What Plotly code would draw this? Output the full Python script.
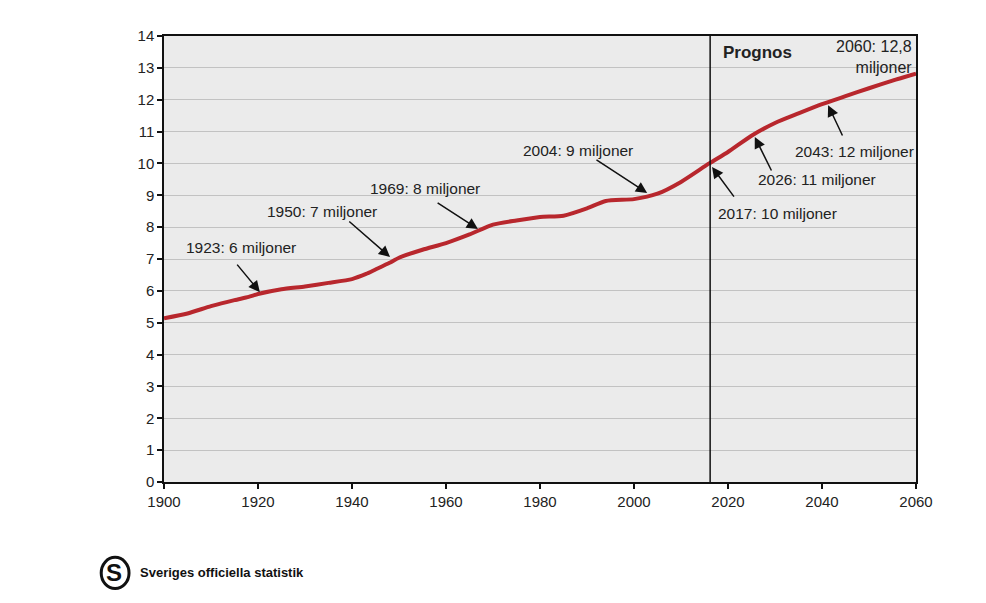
import plotly.graph_objects as go

years = [1900, 1905, 1910, 1915, 1918, 1920, 1925, 1930, 1935, 1940, 1943, 1945, 1948,
         1950, 1955, 1960, 1965, 1970, 1975, 1980, 1985, 1990, 1994, 2000, 2005, 2010,
         2016, 2020, 2025, 2030, 2035, 2040, 2045, 2050, 2055, 2060]
population = [5.14, 5.29, 5.52, 5.71, 5.81, 5.90, 6.05, 6.14, 6.25, 6.37, 6.53, 6.67, 6.88,
              7.04, 7.29, 7.50, 7.77, 8.08, 8.21, 8.32, 8.36, 8.59, 8.82, 8.88, 9.05, 9.42,
              10.00, 10.36, 10.87, 11.27, 11.57, 11.86, 12.11, 12.36, 12.60, 12.82]

prognos_year = 2016.2

x_ticks = [1900, 1920, 1940, 1960, 1980, 2000, 2020, 2040, 2060]
y_ticks = list(range(0, 15))

# milestone labels: text, text position (x, y), arrow tail (x, y), arrow tip (x, y)
labels = ["1923: 6 miljoner", "1950: 7 miljoner", "1969: 8 miljoner", "2004: 9 miljoner",
          "2017: 10 miljoner", "2026: 11 miljoner", "2043: 12 miljoner"]
label_pos = [(1916.4, 7.35), (1933.6, 8.48), (1955.5, 9.20), (1988.1, 10.42),
             (2030.6, 8.44), (2038.9, 9.48), (2047.0, 10.39)]
arrow_tail = [(1915.3, 6.87), (1939.1, 8.22), (1957.9, 8.79), (1991.7, 10.14),
              (2021.5, 8.91), (2029.4, 9.73), (2044.5, 10.83)]
arrow_tip = [(1920.4, 5.96), (1948.1, 7.06), (1966.8, 7.94), (2002.8, 9.07),
             (2016.6, 9.89), (2025.7, 10.83), (2041.3, 11.83)]

FONT = "Liberation Sans, Arial, sans-serif"
TXT = "#222222"

fig = go.Figure()
fig.add_trace(go.Scatter(x=years, y=population, mode="lines",
                         line=dict(color="#b8272d", width=4, shape="spline", smoothing=0.6),
                         hoverinfo="x+y", showlegend=False))

annotations = []
for t, (tx, ty), (ax, ay), (px, py) in zip(labels, label_pos, arrow_tail, arrow_tip):
    annotations.append(dict(x=tx, y=ty, xref="x", yref="y", text=t, showarrow=False,
                            font=dict(family=FONT, size=15.5, color=TXT)))
    annotations.append(dict(x=px, y=py, ax=ax, ay=ay, xref="x", yref="y", axref="x", ayref="y",
                            text="", showarrow=True, arrowhead=2, arrowsize=1.5, arrowwidth=1.5,
                            arrowcolor="#111111", standoff=0, startstandoff=0))

annotations.append(dict(x=2060, y=14, xref="x", yref="y", xanchor="right", yanchor="top",
                        xshift=-2, yshift=0, align="right",
                        text="2060: 12,8<br>miljoner", showarrow=False,
                        font=dict(family=FONT, size=16, color=TXT)))
annotations.append(dict(x=2018.5, y=13.47, xref="x", yref="y", xanchor="left",
                        text="<b>Prognos</b>", showarrow=False,
                        font=dict(family=FONT, size=17, color=TXT)))
# logo (positions relative to the plot area, which spans 752 x 446 px)
annotations.append(dict(x=-0.0346, y=-0.204, xref="paper", yref="paper", xanchor="left",
                        yanchor="middle", text="<b>Sveriges officiella statistik</b>",
                        showarrow=False, font=dict(family=FONT, size=13, color="#111111")))
annotations.append(dict(x=-0.066, y=-0.204, xref="paper", yref="paper", xanchor="center",
                        yanchor="middle", text="<b>S</b>", showarrow=False,
                        font=dict(family=FONT, size=24, color="#111111")))

fig.update_layout(
    width=970, height=587,
    margin=dict(l=156, r=62, t=28, b=113),
    paper_bgcolor="white", plot_bgcolor="#ebebeb",
    font=dict(family=FONT, size=15, color=TXT),
    annotations=annotations,
    shapes=[
        dict(type="line", xref="x", yref="paper", x0=prognos_year, x1=prognos_year, y0=0, y1=1,
             line=dict(color="#111111", width=1.5)),
        dict(type="circle", xref="paper", yref="paper", x0=-0.0835, x1=-0.0465,
             y0=-0.239, y1=-0.169, line=dict(color="#111111", width=3)),
    ],
    xaxis=dict(range=[1900, 2060], tickvals=x_ticks, showgrid=False, zeroline=False,
               showline=True, linecolor="#111111", linewidth=1.5, mirror=True,
               ticks="outside", ticklen=5, tickcolor="#111111", tickwidth=1.5,
               tickfont=dict(family=FONT, size=15, color=TXT)),
    yaxis=dict(range=[0, 14], tickvals=y_ticks, showgrid=True, gridcolor="#c2c2c2", gridwidth=1,
               zeroline=False, showline=True, linecolor="#111111", linewidth=1.5, mirror=True,
               ticks="outside", ticklen=5, tickcolor="#111111", tickwidth=1.5,
               tickfont=dict(family=FONT, size=15, color=TXT)),
)

fig.write_html("out.html")
